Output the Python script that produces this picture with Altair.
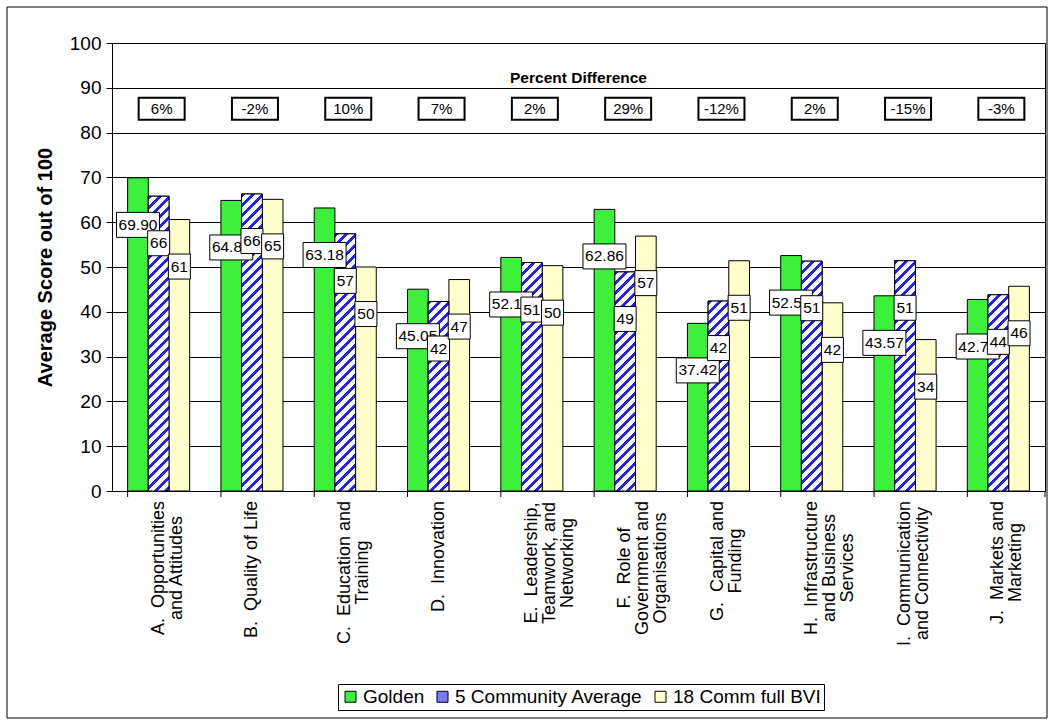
import altair as alt
import pandas as pd

# ---------------- data ----------------
category_lines = [
    ["A.\u00a0 Opportunities", "and Attitudes"],
    ["B.\u00a0 Quality of Life"],
    ["C.\u00a0 Education and", "Training"],
    ["D.\u00a0 Innovation"],
    ["E.\u00a0 Leadership,", "Teamwork, and", "Networking"],
    ["F.\u00a0 Role of", "Government and", "Organisations"],
    ["G.\u00a0 Capital and", "Funding"],
    ["H.\u00a0 Infrastructure", "and Business", "Services"],
    ["I.\u00a0 Communication", "and Connectivity"],
    ["J.\u00a0 Markets and", "Marketing"],
]
series = ["Golden", "5 Community Average", "18 Comm full BVI"]
golden = [69.90, 64.86, 63.18, 45.05, 52.13, 62.86, 37.42, 52.55, 43.57, 42.75]
community5 = [65.8, 66.3, 57.4, 42.3, 51.0, 48.9, 42.4, 51.3, 51.4, 43.8]
bvi18 = [60.6, 65.1, 50.0, 47.2, 50.3, 56.9, 51.4, 42.0, 33.8, 45.7]
pct_diff = ["6%", "-2%", "10%", "7%", "2%", "29%", "-12%", "2%", "-15%", "-3%"]
y_ticks = [0, 10, 20, 30, 40, 50, 60, 70, 80, 90, 100]
panel_title = "Percent Difference"
y_title = "Average Score out of 100"

# ---------------- styling ----------------
F = "Liberation Sans"
W, H = 933, 448
GREEN = "#3cf03c"
BLUE = "#1f1fff"
YELLOW = "#ffffcc"
PI, PO = 0.335, 0.1675
STEP = W / (len(category_lines) - PI + 2 * PO)
BAR_W = STEP * (1 - PI) / 3
LABEL_DROP = 10.5
PCT_ROW = 85.3
TITLE_ROW = 92.2
XLAB_SIZE = 18
XLAB_PAD = 10

# approximate Arial/Liberation Sans advance widths (em), used only to place
# the centred category-label blocks just under the axis
_EM = {c: .556 for c in "abdeghnopqu0123456789"}
_EM.update({c: .5 for c in "cksvxyz"})
_EM.update({"f": .278, "t": .278, "i": .222, "j": .222, "l": .222, "m": .833,
            "r": .333, "w": .722, " ": .278, "\u00a0": .278, ".": .278, ",": .278,
            "A": .667, "B": .667, "C": .722, "D": .722, "E": .667, "F": .611,
            "G": .778, "H": .722, "I": .278, "J": .5, "M": .833, "N": .722,
            "O": .778, "Q": .778, "R": .722, "S": .667, "T": .611, "L": .556})


def _w(s):
    return sum(_EM.get(ch, .556) for ch in s)


categories = ["\n".join(l) for l in category_lines]

rows = []
for i, c in enumerate(categories):
    for s, vals in zip(series, [golden, community5, bvi18]):
        v = vals[i]
        rows.append({
            "cat": c, "series": s, "value": v, "idx": i,
            "label": f"{v:.2f}" if s == "Golden" else f"{v:.0f}",
        })
df = pd.DataFrame(rows)
pct_df = pd.DataFrame({"cat": categories, "pct": pct_diff})
one = pd.DataFrame({"t": [panel_title]})
lab_df = pd.DataFrame({
    "cat": categories,
    "half": [max(_w(x) for x in l) * XLAB_SIZE / 2 for l in category_lines],
})

x_axis = alt.Axis(
    title=None, labels=False, ticks=False, domainColor="black", grid=False,
)
x_scale = alt.Scale(domain=categories, paddingInner=PI, paddingOuter=PO)
y_axis = alt.Axis(
    values=y_ticks, title=y_title, titleFontSize=20, titleFontWeight="bold",
    titleFont=F, titleColor="black", titleX=-67, titleY=H / 2, titleAngle=270,
    titleAlign="center", titleBaseline="middle",
    labelFontSize=19, labelFont=F, labelColor="black", tickColor="black",
    tickSize=6, labelPadding=5, domainColor="black", grid=True,
    gridColor="black", gridWidth=1,
)
y_scale = alt.Scale(domain=[0, 100], nice=False, zero=True)


def X():
    return alt.X("cat:N", sort=categories, scale=x_scale, axis=x_axis)


def XO():
    return alt.XOffset("series:N", sort=series,
                       scale=alt.Scale(domain=series, paddingInner=0, paddingOuter=0))


def Y(field="value"):
    return alt.Y(f"{field}:Q", scale=y_scale, axis=y_axis)


def stripe_fill(w, h, period=10.0, frac=0.42, c1=BLUE, c2="white"):
    L = w + h
    lam = L * h / (w * w + h * h)
    stops = []
    k = 0
    while k * period < L:
        o0 = k * period / L
        o1 = min((k * period + frac * period) / L, 1.0)
        o2 = min((k + 1) * period / L, 1.0)
        stops += [(o0, c1), (o1, c1), (o1, c2), (o2, c2)]
        k += 1
    return alt.LinearGradient(
        gradient="linear",
        stops=[alt.GradientStop(color=c, offset=round(o, 5)) for o, c in stops],
        x1=0, y1=0, x2=lam * w / h, y2=lam,
    )


layers = []

# base bars (with legend)
layers.append(
    alt.Chart(df).mark_bar(stroke="black", strokeWidth=1).encode(
        x=X(), xOffset=XO(), y=Y(),
        color=alt.Color(
            "series:N", sort=series,
            scale=alt.Scale(domain=series, range=[GREEN, "#7a7aff", YELLOW]),
            legend=alt.Legend(
                orient="none", legendX=226, legendY=641, direction="horizontal",
                title=None, strokeColor="black", fillColor="white", padding=3,
                symbolType="square", symbolSize=121, symbolStrokeColor="black",
                symbolStrokeWidth=1, symbolOpacity=1, labelFontSize=19, labelFont=F,
                labelColor="black", columnPadding=8, labelOffset=3, labelLimit=400,
            ),
        ),
    )
)

# striped overlay for the 5 Community Average bars
for i, c in enumerate(categories):
    h = community5[i] * H / 100.0
    layers.append(
        alt.Chart(df).transform_filter(
            f"datum.idx == {i} && datum.series == '{series[1]}'"
        ).mark_bar(fill=stripe_fill(BAR_W, h), stroke="black", strokeWidth=1).encode(
            x=X(), xOffset=XO(), y=Y()
        )
    )

# category boundary ticks
layers.append(
    alt.Chart(pct_df).mark_rule(color="black", strokeWidth=1).encode(
        x=alt.X("cat:N", sort=categories, scale=x_scale, axis=x_axis, bandPosition=0),
        y=alt.value(H), y2=alt.value(H + 6),
    )
)
layers.append(
    alt.Chart(one).mark_rule(color="black", strokeWidth=1).encode(
        x=alt.value(W), y=alt.value(H), y2=alt.value(H + 6)
    )
)

# category labels: rotated, each wrapped line centred, block starting under the axis
layers.append(
    alt.Chart(lab_df).transform_calculate(
        ly=f"-({XLAB_PAD} + datum.half) * 100 / {H}"
    ).mark_text(
        font=F, fontSize=XLAB_SIZE, color="black", angle=270, align="center",
        baseline="middle", lineBreak="\n", lineHeight=18,
    ).encode(x=X(), y=Y("ly"), text="cat:N")
)

# percent difference row
layers.append(
    alt.Chart(one).transform_calculate(py=str(TITLE_ROW)).mark_text(
        font=F, fontSize=15.5, fontWeight="bold", color="black", baseline="middle"
    ).encode(x=alt.value(W / 2), y=Y("py"), text="t:N")
)
layers.append(
    alt.Chart(pct_df).transform_calculate(py=str(PCT_ROW)).mark_point(
        shape="M-1,-0.478H1V0.478H-1Z", size=46 ** 2, filled=True, fill="white",
        stroke="black", strokeWidth=2, opacity=1, xOffset=3,
    ).encode(x=X(), y=Y("py"))
)
layers.append(
    alt.Chart(pct_df).transform_calculate(py=str(PCT_ROW)).mark_text(
        font=F, fontSize=15, color="black", baseline="middle", xOffset=3,
    ).encode(x=X(), y=Y("py"), text="pct:N")
)

# data labels with boxes
for s in series:
    bw = 43 if s == "Golden" else 22
    bh = 25
    shape = f"M-1,-{bh / bw:.4f}H1V{bh / bw:.4f}H-1Z"
    base = alt.Chart(df).transform_filter(f"datum.series == '{s}'").transform_calculate(
        ly=f"datum.value - {LABEL_DROP}"
    )
    layers.append(
        base.mark_point(shape=shape, size=bw ** 2, filled=True, fill="white",
                        stroke="black", strokeWidth=1, opacity=1).encode(
            x=X(), xOffset=XO(), y=Y("ly")
        )
    )
    layers.append(
        base.mark_text(font=F, fontSize=15.5, color="black", baseline="middle").encode(
            x=X(), xOffset=XO(), y=Y("ly"), text="label:N"
        )
    )

# outer frame
layers.append(
    alt.Chart(one).mark_rect(filled=False, color="black", strokeWidth=1).encode(
        x=alt.value(-105), x2=alt.value(W + 2), y=alt.value(-36), y2=alt.value(H + 227)
    )
)

chart = alt.layer(*layers).properties(
    width=W, height=H,
    autosize=alt.AutoSizeParams(type="none"),
    padding={"left": 112, "top": 43, "right": 5, "bottom": 234},
).configure_view(stroke="black", strokeWidth=1)

chart.save("out.html", embed_options={"renderer": "svg", "actions": False})
